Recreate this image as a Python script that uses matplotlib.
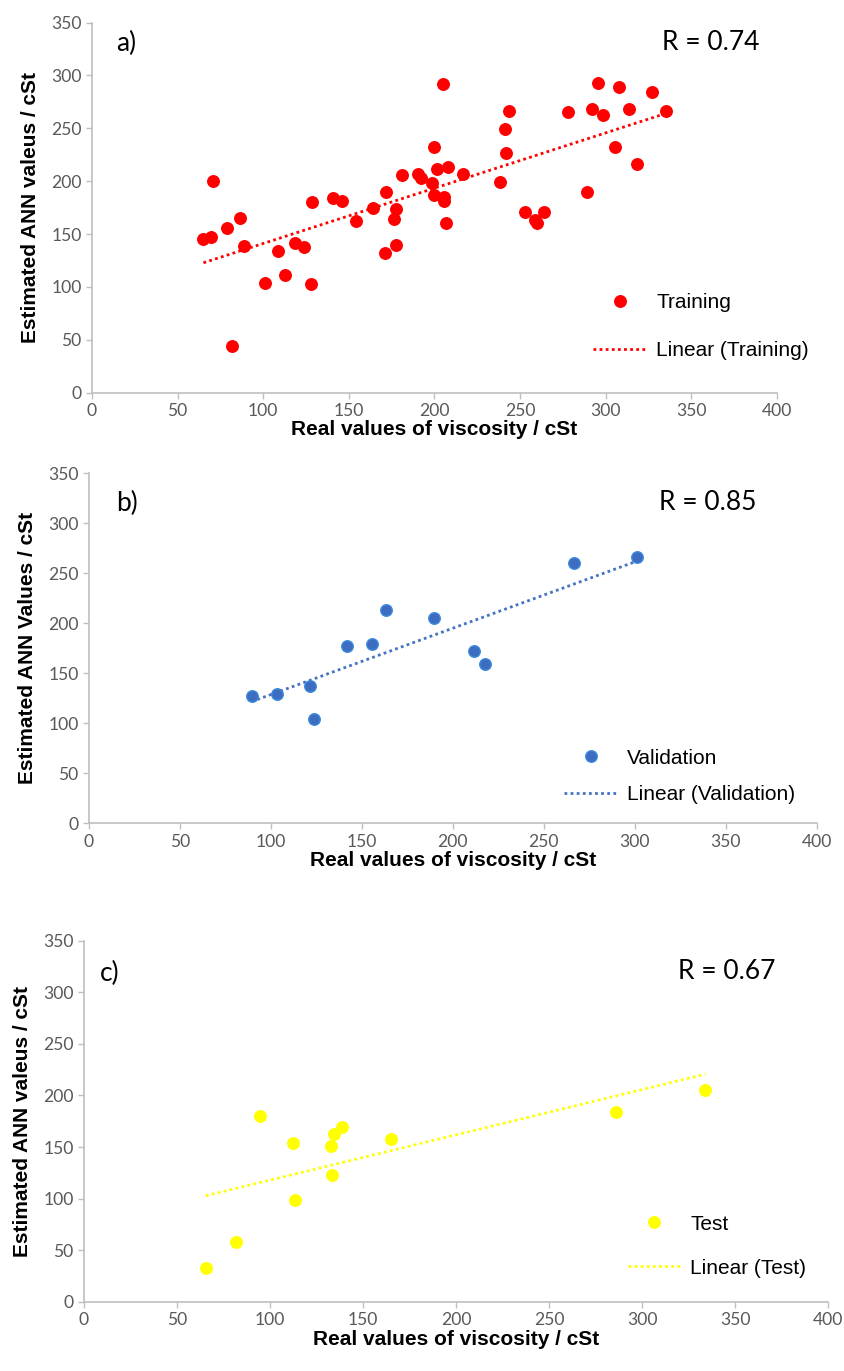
import numpy as np
import matplotlib
matplotlib.use('Agg')
import matplotlib.pyplot as plt

plt.rcParams['font.family'] = ['Liberation Sans', 'DejaVu Sans']

# a) training
train_x = [65.1, 69.6, 70.9, 78.8, 86.5, 88.9, 81.7, 101.3, 108.4, 112.7, 118.7, 123.6,
           128.1, 128.7, 140.9, 146.0, 154.0, 164.1, 171.0, 171.9, 177.4, 176.6, 177.8,
           181.3, 190.2, 192.2, 198.6, 199.6, 199.6, 201.8, 205.1, 205.4, 205.4, 207.8,
           206.6, 216.6, 238.2, 241.1, 242.1, 243.5, 252.8, 258.7, 260.0, 264.3, 277.8,
           289.1, 291.8, 295.7, 298.6, 305.6, 308.0, 313.8, 318.1, 327.1, 335.3]
train_y = [145.4, 147.6, 200.6, 156.1, 165.0, 139.0, 43.9, 103.5, 134.3, 111.0, 141.9, 137.8,
           102.5, 180.7, 184.5, 181.4, 162.2, 174.4, 132.2, 189.6, 140.0, 164.0, 173.8,
           205.7, 206.9, 202.8, 198.7, 232.5, 187.0, 211.3, 291.8, 185.4, 181.0, 213.2,
           160.3, 206.6, 199.6, 249.5, 226.5, 266.8, 170.7, 163.4, 160.3, 170.7, 265.9,
           189.9, 268.7, 292.7, 262.7, 232.5, 288.9, 268.7, 216.1, 284.2, 266.8]

# b) validation
val_x = [89.4, 103.1, 121.3, 123.6, 141.8, 155.3, 163.4, 189.6, 211.5, 217.6, 266.7, 301.5]
val_y = [127.6, 129.6, 137.0, 104.6, 177.3, 179.3, 213.3, 205.0, 172.0, 159.3, 260.6, 266.0]

# c) test
test_x = [65.5, 81.6, 94.8, 112.3, 113.2, 132.7, 133.2, 134.4, 138.7, 164.8, 285.9, 334.1]
test_y = [32.4, 57.6, 180.1, 154.2, 98.6, 150.7, 122.6, 162.4, 169.2, 157.5, 184.3, 205.3]

panels = [
    dict(x=train_x, y=train_y, tag='a)', r='R = 0.74', name='Training',
         ylabel='Estimated ANN valeus / cSt', face='#FF0000', edge='#FF0000', line='#FF0000',
         rect=[0.1089, 0.7136, 0.8103, 0.2699], tagpos=(0.035, 0.944), rpos=(0.833, 0.947),
         leg=(0.732, 0.269), spacing=1.4),
    dict(x=val_x, y=val_y, tag='b)', r='R = 0.85', name='Validation',
         ylabel='Estimated ANN Values / cSt', face='#3D6CC0', edge='#3B8BDB', line='#4472C4',
         rect=[0.1053, 0.3995, 0.8612, 0.2553], tagpos=(0.037, 0.914), rpos=(0.783, 0.916),
         leg=(0.653, 0.213), spacing=0.83),
    dict(x=test_x, y=test_y, tag='c)', r='R = 0.67', name='Test',
         ylabel='Estimated ANN valeus / cSt', face='#FFFF00', edge='#FFFF00', line='#FFFF00',
         rect=[0.0994, 0.0505, 0.8805, 0.2633], tagpos=(0.021, 0.910), rpos=(0.798, 0.914),
         leg=(0.7306, 0.241), spacing=1.19),
]

fig = plt.figure(figsize=(8.45, 13.71), dpi=100)

for p in panels:
    ax = fig.add_axes(p['rect'])
    x = np.array(p['x'])
    y = np.array(p['y'])
    ax.plot(x, y, 'o', ms=8.3, mfc=p['face'], mec=p['edge'], mew=1, label=p['name'], zorder=3)
    # excel style linear trendline
    k, b = np.polyfit(x, y, 1)
    xs = np.array([x.min(), x.max()])
    ax.plot(xs, k * xs + b, color=p['line'], lw=2.0, linestyle=(0, (1, 1.2)),
            label='Linear (' + p['name'] + ')', zorder=2)

    ax.set_xlim(0, 400)
    ax.set_ylim(0, 350)
    ax.set_xticks(np.arange(0, 401, 50))
    ax.set_yticks(np.arange(0, 351, 50))
    for s in ['top', 'right']:
        ax.spines[s].set_visible(False)
    for s in ['left', 'bottom']:
        ax.spines[s].set_color('#BFBFBF')
        ax.spines[s].set_linewidth(1.2)
    ax.tick_params(colors='#BFBFBF', labelcolor='#595959', labelsize=12.6, length=4,
                   width=1, labelfontfamily='Lato')
    ax.set_xlabel('Real values of viscosity / cSt', fontsize=15, fontweight='bold', labelpad=1)
    ax.set_ylabel(p['ylabel'], fontsize=15, fontweight='bold', labelpad=8)

    ax.text(p['tagpos'][0], p['tagpos'][1], p['tag'], transform=ax.transAxes,
            fontsize=19, family='Lato', va='center', ha='left')
    ax.text(p['rpos'][0], p['rpos'][1], p['r'], transform=ax.transAxes,
            fontsize=19, family='Lato', va='center', ha='left')

    ax.legend(loc='upper left', bbox_to_anchor=p['leg'], frameon=False, fontsize=15,
              numpoints=1, handlelength=2.55, handletextpad=0.47, borderpad=0,
              borderaxespad=0, labelspacing=p['spacing'])

fig.savefig('out.png', dpi=100)
